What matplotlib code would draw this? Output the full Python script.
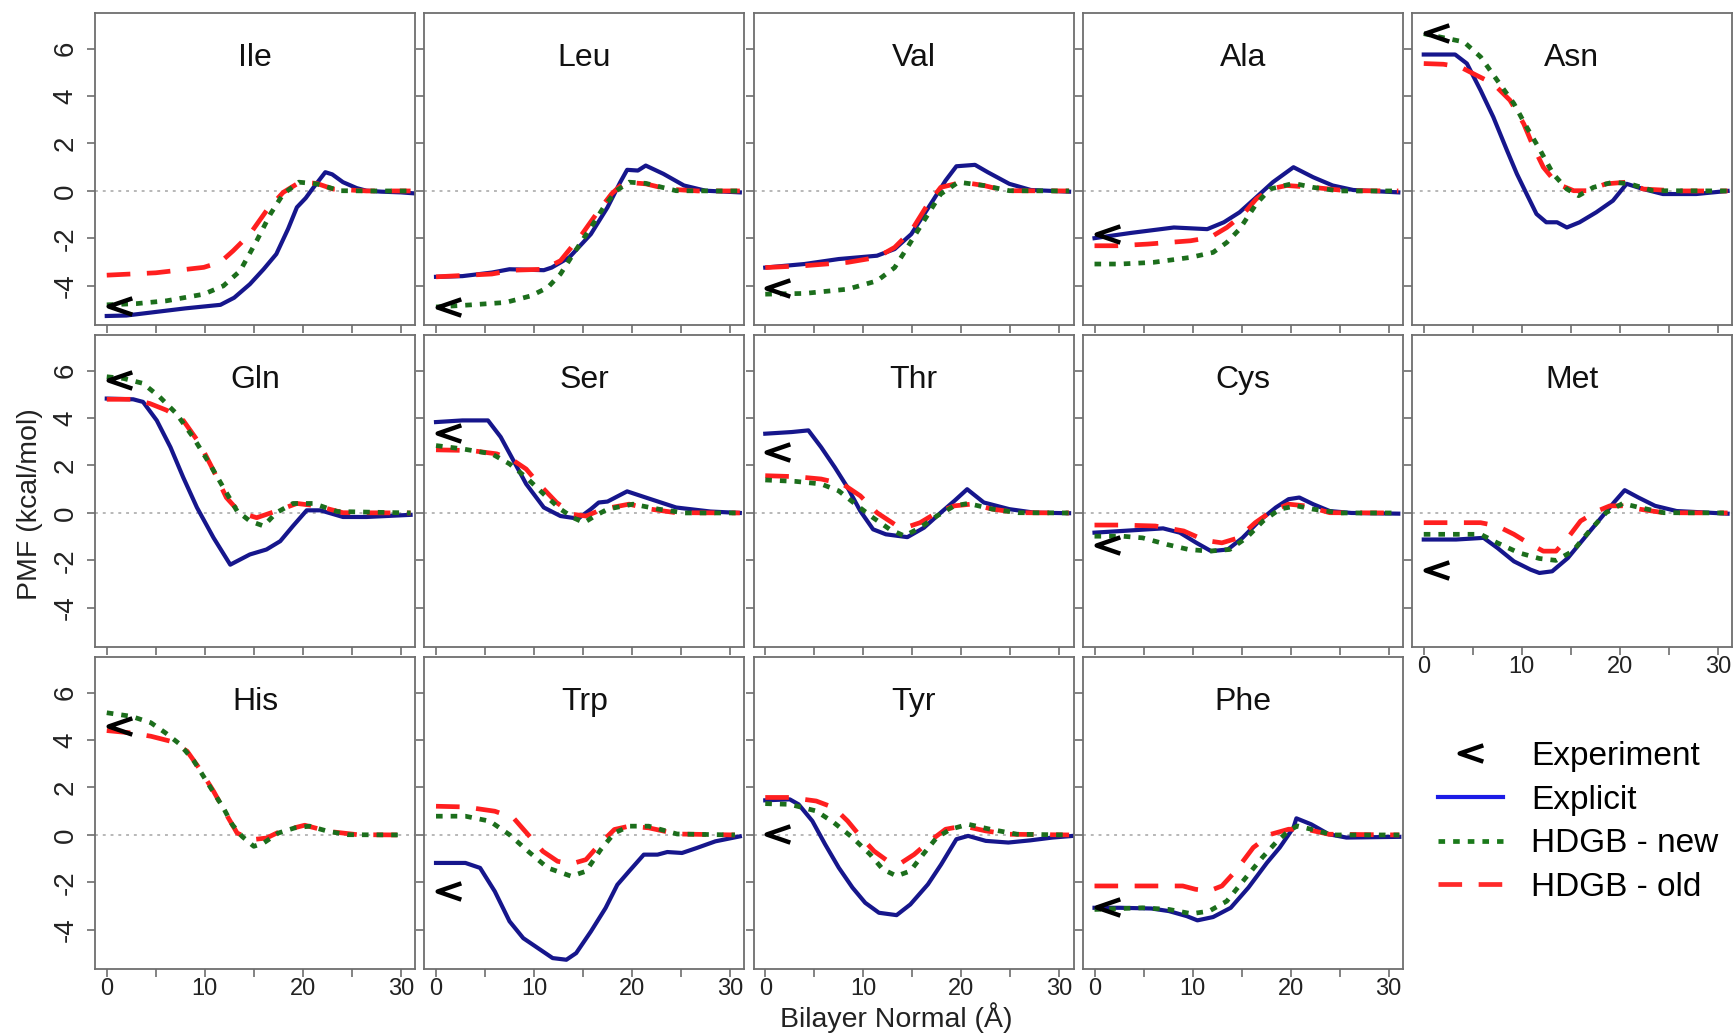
import matplotlib
matplotlib.use('Agg')
import matplotlib.pyplot as plt
from matplotlib.path import Path
from matplotlib.markers import MarkerStyle
from matplotlib.lines import Line2D
from matplotlib.transforms import offset_copy

# ---------------- data ----------------
RESIDUES = ['Ile', 'Leu', 'Val', 'Ala', 'Asn',
            'Gln', 'Ser', 'Thr', 'Cys', 'Met',
            'His', 'Trp', 'Tyr', 'Phe']
EXPERIMENT = [-4.85, -4.9, -4.1, -1.8, 6.66,
              5.6, 3.35, 2.55, -1.33, -2.39,
              4.58, -2.38, 0.05, -3.04]

XTICKS = [0, 5, 10, 15, 20, 25, 30]
XTICK_LABELS = ['0', '', '10', '', '20', '', '30']
YTICKS = [-4, -2, 0, 2, 4, 6]
YTICK_LABELS = ['-4', '-2', '0', '2', '4', '6']

ILE_EXPL_X = [0, 2, 5, 8, 11.6, 13, 14.6, 16, 17.3, 18.5, 19.4, 20.3, 21.1, 22.3, 23, 24.1, 25.5, 26.5, 28, 30, 31.3]
ILE_EXPL_Y = [-5.27, -5.25, -5.1, -4.95, -4.8, -4.5, -3.93, -3.3, -2.66, -1.6, -0.69, -0.3, 0.15, 0.79, 0.7, 0.37, 0.12, 0.01, -0.03, -0.06, -0.1]
ILE_NEW_X = [0, 3, 6.1, 9.9, 11.9, 13.6, 15.3, 16.7, 18, 19.6, 21.4, 23.8, 27, 31]
ILE_NEW_Y = [-4.8, -4.75, -4.63, -4.35, -4.0, -3.37, -2.1, -0.97, -0.13, 0.37, 0.3, 0.01, 0.0, 0.0]
ILE_OLD_X = [0, 5, 9.9, 11.6, 12.9, 14.6, 16.3, 18, 19.7, 21.4, 23.1, 26.5, 31]
ILE_OLD_Y = [-3.55, -3.45, -3.22, -3.0, -2.52, -1.82, -0.83, -0.06, 0.37, 0.32, 0.08, 0.0, 0.0]

LEU_EXPL_X = [0, 2.7, 5.7, 7.5, 11, 11.8, 13.6, 15.8, 17.5, 18.8, 19.5, 20.6, 21.4, 23.2, 25.3, 27.5, 31]
LEU_EXPL_Y = [-3.62, -3.59, -3.44, -3.3, -3.34, -3.23, -2.8, -1.82, -0.69, 0.37, 0.89, 0.86, 1.07, 0.72, 0.23, 0.01, -0.06]
LEU_NEW_X = [0, 3.6, 7.1, 9.7, 11.4, 12.7, 14, 15.8, 17.1, 18.4, 19.7, 21.4, 24.5, 28.8, 31]
LEU_NEW_Y = [-4.89, -4.8, -4.7, -4.42, -4.07, -3.5, -2.66, -1.54, -0.69, 0.01, 0.37, 0.32, 0.01, 0, 0]
LEU_OLD_X = [0, 5.7, 7.9, 11, 12.7, 14.9, 16.6, 17.9, 19.2, 21.4, 23.6, 26.7, 31]
LEU_OLD_Y = [-3.62, -3.5, -3.34, -3.3, -2.94, -1.82, -0.83, -0.13, 0.37, 0.3, 0.08, 0, 0]

VAL_EXPL_X = [0, 4, 7.5, 11.4, 13.2, 14.9, 17.1, 18.4, 19.5, 21.4, 22.7, 24.9, 27.1, 31]
VAL_EXPL_Y = [-3.23, -3.08, -2.87, -2.73, -2.45, -1.82, -0.41, 0.44, 1.04, 1.1, 0.79, 0.3, 0.04, -0.03]
VAL_NEW_X = [0, 4, 8.4, 11.4, 13.2, 14.5, 16.2, 17.9, 19.7, 22.3, 24.9, 31]
VAL_NEW_Y = [-4.35, -4.32, -4.14, -3.79, -3.23, -2.38, -1.25, -0.13, 0.37, 0.23, 0.01, 0]
VAL_OLD_X = [0, 4, 8.4, 11.4, 13.2, 14.9, 16.6, 17.9, 20.1, 22.3, 24.5, 31]
VAL_OLD_Y = [-3.23, -3.15, -3.01, -2.8, -2.38, -1.68, -0.55, 0.15, 0.37, 0.23, 0.01, 0]

ALA_EXPL_X = [0, 3.7, 8.1, 11.5, 13.2, 14.8, 16.5, 18.2, 20.3, 22.3, 24.3, 26.4, 31]
ALA_EXPL_Y = [-1.99, -1.77, -1.54, -1.61, -1.32, -0.9, -0.27, 0.37, 1.0, 0.58, 0.23, 0.04, -0.06]
ALA_NEW_X = [0, 2.6, 6, 9.8, 12.1, 13.5, 14.8, 16.5, 17.9, 20.3, 22.3, 25, 31]
ALA_NEW_Y = [-3.08, -3.08, -3.01, -2.8, -2.59, -2.17, -1.61, -0.55, 0.08, 0.32, 0.15, 0, 0]
ALA_OLD_X = [0, 2.3, 5.4, 9.8, 11.8, 13.5, 15.2, 16.5, 17.9, 19.6, 22.3, 25.7, 31]
ALA_OLD_Y = [-2.31, -2.31, -2.24, -2.1, -1.96, -1.54, -0.97, -0.34, 0.08, 0.23, 0.15, 0.01, 0]

ASN_EXPL_X = [0, 3.2, 4.4, 5.8, 7.1, 8.5, 9.5, 10.5, 11.5, 12.5, 13.6, 14.6, 15.9, 17.6, 19.3, 20.7, 22.4, 24.4, 27.8, 31]
ASN_EXPL_Y = [5.75, 5.75, 5.37, 4.24, 3.11, 1.7, 0.72, -0.13, -0.97, -1.32, -1.32, -1.54, -1.32, -0.9, -0.41, 0.3, 0.08, -0.13, -0.13, 0]
ASN_NEW_X = [0, 4.1, 5.8, 7.5, 9.2, 10.5, 11.9, 13.2, 14.6, 15.8, 17.3, 19.3, 21, 23.4, 31]
ASN_NEW_Y = [6.63, 6.28, 5.65, 4.66, 3.68, 2.69, 1.7, 0.72, 0.08, -0.2, 0.15, 0.37, 0.3, 0.01, 0]
ASN_OLD_X = [0, 2, 3.7, 5.4, 7.1, 8.8, 10.2, 11.2, 12.2, 13.6, 15.3, 16.6, 18.6, 20.7, 22.4, 26.1, 31]
ASN_OLD_Y = [5.37, 5.34, 5.23, 4.87, 4.52, 3.82, 2.83, 1.85, 1.0, 0.3, 0.01, 0.01, 0.3, 0.37, 0.08, 0, 0]

GLN_EXPL_X = [0, 2.7, 3.7, 5.1, 6.5, 7.8, 9.2, 10.9, 12.6, 14.6, 16.3, 17.7, 19, 20.4, 21.8, 24.1, 26.5, 31]
GLN_EXPL_Y = [4.82, 4.79, 4.68, 3.9, 2.77, 1.5, 0.23, -1.05, -2.18, -1.75, -1.54, -1.19, -0.55, 0.11, 0.11, -0.17, -0.17, -0.08]
GLN_NEW_X = [0, 1.7, 3.7, 5.4, 7.1, 8.8, 10.5, 11.9, 13.3, 14.6, 16, 17.3, 19, 21.1, 23.5, 31]
GLN_NEW_Y = [5.74, 5.67, 5.46, 4.89, 4.19, 3.2, 2.07, 1.07, 0.08, -0.34, -0.55, 0.01, 0.4, 0.4, 0.06, 0]
GLN_OLD_X = [0, 2.7, 4.4, 6.1, 7.8, 9.5, 10.9, 12.2, 13.6, 15.3, 17.3, 19.4, 21.4, 24.1, 31]
GLN_OLD_Y = [4.79, 4.79, 4.61, 4.33, 3.9, 2.91, 1.78, 0.65, 0.01, -0.2, 0.08, 0.4, 0.3, 0.01, 0]

SER_EXPL_X = [0, 2.7, 5.3, 6.6, 7.9, 9.2, 11, 12.7, 14.5, 15.8, 16.6, 17.5, 19.5, 21.4, 24.5, 28, 31]
SER_EXPL_Y = [3.83, 3.9, 3.9, 3.2, 2.21, 1.22, 0.23, -0.13, -0.24, 0.16, 0.44, 0.48, 0.91, 0.65, 0.23, 0.06, 0]
SER_NEW_X = [0, 2.7, 5.7, 7.5, 9.2, 11, 12.7, 14, 15.1, 16.2, 17.5, 20.1, 22.7, 25.4, 31]
SER_NEW_Y = [2.84, 2.7, 2.49, 2.07, 1.5, 0.79, 0.16, -0.2, -0.41, -0.13, 0.16, 0.37, 0.16, 0, 0]
SER_OLD_X = [0, 3.6, 6.2, 7.9, 9.2, 10.5, 12.3, 14, 15.3, 17, 19.7, 21.9, 24.5, 31]
SER_OLD_Y = [2.66, 2.63, 2.49, 2.21, 1.85, 1.22, 0.44, -0.06, -0.13, 0.16, 0.37, 0.16, 0.01, 0]

THR_EXPL_X = [0, 2.7, 4.4, 5.7, 7.1, 8.4, 9.7, 11, 12.3, 14.5, 16.2, 17.9, 19.3, 20.6, 22.3, 24.9, 27.5, 31]
THR_EXPL_Y = [3.34, 3.41, 3.48, 2.77, 1.92, 1.07, 0.08, -0.69, -0.9, -1.02, -0.62, 0.01, 0.51, 1.0, 0.44, 0.16, 0.01, -0.01]
THR_NEW_X = [0, 3.1, 5.7, 7.5, 9.2, 11, 12.7, 14.2, 15.8, 17.5, 19.3, 20.7, 23.2, 25.8, 31]
THR_NEW_Y = [1.39, 1.33, 1.22, 0.93, 0.37, -0.2, -0.69, -0.97, -0.62, -0.13, 0.3, 0.4, 0.16, 0.01, 0]
THR_OLD_X = [0, 3.1, 5.7, 7.9, 9.7, 11.4, 13.2, 14.5, 15.8, 17.5, 19.3, 21, 23.2, 25.8, 31]
THR_OLD_Y = [1.57, 1.53, 1.43, 1.22, 0.72, 0.01, -0.48, -0.59, -0.41, 0.01, 0.3, 0.37, 0.16, 0.01, 0]

CYS_EXPL_X = [0, 2.8, 7, 8.7, 10.4, 11.9, 13.6, 15.1, 16.8, 18.5, 19.8, 20.9, 22.3, 24, 26.2, 31]
CYS_EXPL_Y = [-0.83, -0.76, -0.65, -0.83, -1.26, -1.61, -1.54, -1.05, -0.34, 0.23, 0.58, 0.65, 0.37, 0.08, 0, -0.03]
CYS_NEW_X = [0, 2.8, 4.9, 7.4, 9.6, 11.7, 13.8, 15.5, 17.2, 18.9, 20.6, 22.3, 24.9, 31]
CYS_NEW_Y = [-0.98, -0.98, -1.05, -1.33, -1.54, -1.61, -1.54, -1.05, -0.34, 0.16, 0.3, 0.16, 0, 0]
CYS_OLD_X = [0, 2.8, 6.2, 9.1, 11.3, 13, 14.7, 16.4, 18.1, 19.8, 21.5, 24, 31]
CYS_OLD_Y = [-0.51, -0.51, -0.55, -0.76, -1.16, -1.26, -1.05, -0.41, 0.08, 0.37, 0.3, 0.01, 0]

MET_EXPL_X = [0, 3.3, 6.1, 7.5, 9.2, 10.9, 11.8, 13.1, 14.7, 16.4, 18.1, 19.4, 20.5, 21.9, 23.6, 25.8, 31]
MET_EXPL_Y = [-1.12, -1.12, -1.05, -1.47, -2.04, -2.39, -2.53, -2.46, -1.9, -1.05, -0.2, 0.44, 0.96, 0.65, 0.3, 0.08, -0.03]
MET_NEW_X = [0, 5.8, 7.5, 9.7, 11.8, 13.5, 15.2, 16.9, 18.6, 20.3, 22, 24.5, 31]
MET_NEW_Y = [-0.9, -0.9, -1.26, -1.68, -1.92, -2.0, -1.61, -0.76, 0.01, 0.4, 0.23, 0.01, 0]
MET_OLD_X = [0, 5.8, 7.5, 9.2, 10.9, 12.2, 13.5, 14.7, 16, 17.7, 19, 20.3, 22, 24.5, 31]
MET_OLD_Y = [-0.41, -0.41, -0.55, -0.9, -1.33, -1.61, -1.61, -1.05, -0.34, 0.08, 0.3, 0.3, 0.16, 0.01, 0]

HIS_EXPL_X = []
HIS_EXPL_Y = []
HIS_NEW_X = [0, 2.5, 4.5, 6, 7.5, 8.9, 10.4, 11.9, 12.8, 13.8, 15.0, 16, 17.5, 19.2, 20.7, 22.6, 24.6, 30]
HIS_NEW_Y = [5.15, 5.0, 4.73, 4.3, 3.81, 3.11, 2.12, 1.14, 0.44, -0.06, -0.48, -0.34, 0.08, 0.3, 0.37, 0.15, 0.01, 0]
HIS_OLD_X = [0, 2.5, 4.5, 6.5, 8.2, 9.4, 10.9, 12.4, 13.3, 14.8, 16.3, 17.7, 20.2, 22.6, 25.6, 30]
HIS_OLD_Y = [4.4, 4.3, 4.16, 3.95, 3.53, 2.83, 1.84, 0.72, 0.08, -0.2, -0.13, 0.15, 0.41, 0.15, 0.01, 0]

TRP_EXPL_X = [0, 3, 4.5, 6, 7.5, 8.9, 10.4, 11.9, 13.3, 14.3, 15.8, 17.3, 18.5, 19.7, 21.2, 22.6, 23.6, 25.1, 26.6, 28.5, 31]
TRP_EXPL_Y = [-1.18, -1.18, -1.39, -2.38, -3.64, -4.35, -4.77, -5.19, -5.26, -4.98, -4.07, -3.08, -2.1, -1.53, -0.83, -0.83, -0.72, -0.76, -0.55, -0.27, -0.06]
TRP_NEW_X = [0, 3, 5.5, 7.5, 9.4, 11.4, 13.8, 15.3, 16.8, 18.2, 19.7, 21.7, 24.6, 30.5]
TRP_NEW_Y = [0.79, 0.79, 0.58, 0.01, -0.69, -1.39, -1.74, -1.53, -0.62, 0.08, 0.37, 0.37, 0.04, 0]
TRP_OLD_X = [0, 3, 6, 7.9, 9.4, 10.9, 12.4, 13.8, 15.3, 16.8, 18.2, 19.7, 21.7, 24.6, 30.5]
TRP_OLD_Y = [1.21, 1.18, 1.0, 0.72, 0.01, -0.69, -1.11, -1.22, -1.04, -0.34, 0.23, 0.37, 0.3, 0.04, 0]

TYR_EXPL_X = [0, 2.5, 3.4, 4.8, 6.1, 7.5, 8.9, 10.2, 11.6, 13.4, 14.8, 16.6, 17.95, 19.5, 20.7, 22.5, 24.8, 27, 29.3, 31.4]
TYR_EXPL_Y = [1.46, 1.5, 1.29, 0.59, -0.39, -1.38, -2.22, -2.86, -3.28, -3.38, -2.93, -2.08, -1.24, -0.18, -0.04, -0.25, -0.32, -0.23, -0.11, -0.04]
TYR_NEW_X = [0, 2.5, 5.2, 7, 8.9, 10.7, 12, 13.4, 14.8, 16.1, 17.5, 18.9, 20.7, 22.95, 25.7, 31]
TYR_NEW_Y = [1.32, 1.29, 1.01, 0.52, -0.11, -0.82, -1.45, -1.73, -1.52, -0.82, -0.11, 0.24, 0.45, 0.24, 0.03, 0]
TYR_OLD_X = [0, 2.5, 5.2, 7, 8.4, 9.8, 11.1, 12.5, 13.9, 15.2, 16.6, 18.4, 20.2, 22.5, 24.8, 31]
TYR_OLD_Y = [1.58, 1.58, 1.43, 1.15, 0.59, -0.11, -0.68, -1.1, -1.17, -0.82, -0.32, 0.24, 0.38, 0.17, 0.03, 0]

PHE_EXPL_X = [0, 2.6, 5.8, 7.6, 9.4, 10.5, 12.1, 13.9, 15.7, 17.6, 18.9, 20.3, 20.6, 22.1, 23.9, 25.7, 31.1]
PHE_EXPL_Y = [-3.07, -3.07, -3.1, -3.21, -3.42, -3.6, -3.46, -3.07, -2.22, -1.17, -0.53, 0.31, 0.7, 0.45, 0.03, -0.11, -0.08]
PHE_NEW_X = [0, 4.9, 7.6, 9.9, 11.7, 13.5, 15.3, 17.1, 18.5, 19.8, 20.7, 22.1, 24.3, 31.1]
PHE_NEW_Y = [-3.14, -3.07, -3.14, -3.32, -3.21, -2.79, -1.87, -0.96, -0.32, 0.17, 0.38, 0.24, 0, 0]
PHE_OLD_X = [0, 4.9, 9, 10.3, 11.7, 13, 14.4, 16.2, 18, 19.8, 21.6, 23.9, 31.1]
PHE_OLD_Y = [-2.15, -2.15, -2.15, -2.29, -2.36, -2.15, -1.52, -0.53, 0.03, 0.24, 0.24, 0.03, 0]

EXPLICIT = [(ILE_EXPL_X, ILE_EXPL_Y), (LEU_EXPL_X, LEU_EXPL_Y), (VAL_EXPL_X, VAL_EXPL_Y),
            (ALA_EXPL_X, ALA_EXPL_Y), (ASN_EXPL_X, ASN_EXPL_Y), (GLN_EXPL_X, GLN_EXPL_Y),
            (SER_EXPL_X, SER_EXPL_Y), (THR_EXPL_X, THR_EXPL_Y), (CYS_EXPL_X, CYS_EXPL_Y),
            (MET_EXPL_X, MET_EXPL_Y), (HIS_EXPL_X, HIS_EXPL_Y), (TRP_EXPL_X, TRP_EXPL_Y),
            (TYR_EXPL_X, TYR_EXPL_Y), (PHE_EXPL_X, PHE_EXPL_Y)]
HDGB_NEW = [(ILE_NEW_X, ILE_NEW_Y), (LEU_NEW_X, LEU_NEW_Y), (VAL_NEW_X, VAL_NEW_Y),
            (ALA_NEW_X, ALA_NEW_Y), (ASN_NEW_X, ASN_NEW_Y), (GLN_NEW_X, GLN_NEW_Y),
            (SER_NEW_X, SER_NEW_Y), (THR_NEW_X, THR_NEW_Y), (CYS_NEW_X, CYS_NEW_Y),
            (MET_NEW_X, MET_NEW_Y), (HIS_NEW_X, HIS_NEW_Y), (TRP_NEW_X, TRP_NEW_Y),
            (TYR_NEW_X, TYR_NEW_Y), (PHE_NEW_X, PHE_NEW_Y)]
HDGB_OLD = [(ILE_OLD_X, ILE_OLD_Y), (LEU_OLD_X, LEU_OLD_Y), (VAL_OLD_X, VAL_OLD_Y),
            (ALA_OLD_X, ALA_OLD_Y), (ASN_OLD_X, ASN_OLD_Y), (GLN_OLD_X, GLN_OLD_Y),
            (SER_OLD_X, SER_OLD_Y), (THR_OLD_X, THR_OLD_Y), (CYS_OLD_X, CYS_OLD_Y),
            (MET_OLD_X, MET_OLD_Y), (HIS_OLD_X, HIS_OLD_Y), (TRP_OLD_X, TRP_OLD_Y),
            (TYR_OLD_X, TYR_OLD_Y), (PHE_OLD_X, PHE_OLD_Y)]
EXP_Z = 0.0

# ---------------- style / layout ----------------
plt.rcParams['font.family'] = ['Liberation Sans', 'DejaVu Sans']
W, H = 1734, 1036
PANEL_LEFT = [95, 424.25, 753.5, 1082.75, 1412]
PANEL_TOP = [13, 335, 657]
PW, PH = 320, 312
FRAME = '#6e6e6e'
C_BLUE = '#16168c'
C_GREEN = '#1c6e1c'
C_RED = '#ff1f1f'

chev = MarkerStyle(Path([(0.9, 0.62), (-0.9, 0.0), (0.9, -0.62)],
                        [Path.MOVETO, Path.LINETO, Path.LINETO]),
                   fillstyle='none', joinstyle='miter', capstyle='butt')

fig = plt.figure(figsize=(W / 100, H / 100), dpi=100)

for i, name in enumerate(RESIDUES):
    r, c = divmod(i, 5)
    ax = fig.add_axes([PANEL_LEFT[c] / W, 1 - (PANEL_TOP[r] + PH) / H, PW / W, PH / H])
    ax.set_xlim(-1.2, 31.45)
    ax.set_ylim(-5.65, 7.5)
    ax.axhline(0, color='#b8b8b8', lw=1.4, ls=(0, (1.5, 2.5)), zorder=1)
    ex, ey = EXPLICIT[i]
    if ex:
        ax.plot(ex, ey, color=C_BLUE, lw=3.0, solid_joinstyle='round', zorder=2)
    ox, oy = HDGB_OLD[i]
    ax.plot(ox, oy, color=C_RED, lw=3.4, ls=(0, (5.0, 3.5)), zorder=3)
    nx, ny = HDGB_NEW[i]
    ax.plot(nx, ny, color=C_GREEN, lw=3.4, ls=(0, (1.4, 1.7)), zorder=4)
    tr = offset_copy(ax.transData, fig=fig, x=13, y=0, units='dots')
    ax.plot([EXP_Z], [EXPERIMENT[i]], ls='none', marker=chev, ms=17, mew=3.2,
            mec='black', transform=tr, zorder=5, clip_on=False)
    ax.text(0.5, 0.831, name, transform=ax.transAxes, ha='center', va='baseline',
            fontsize=23, color='#111111')

    for sp in ax.spines.values():
        sp.set_color(FRAME)
        sp.set_linewidth(1.3)
    ax.set_xticks(XTICKS)
    ax.set_yticks(YTICKS)
    show_x = (r == 2) or (r == 1 and c == 4)
    if show_x:
        ax.set_xticklabels(XTICK_LABELS, fontsize=17, color='#222222')
    else:
        ax.set_xticklabels([])
    if c == 0:
        ax.set_yticklabels(YTICK_LABELS, fontsize=20, rotation=90, va='center', color='#222222')
    else:
        ax.set_yticklabels([])
    ax.tick_params(axis='both', direction='out', length=5.8, width=1.2, color=FRAME)
    ax.tick_params(axis='x', pad=0.5)
    ax.tick_params(axis='y', pad=6.0)

fig.text(30 / W, 1 - 504 / H, 'PMF (kcal/mol)', rotation=90, ha='center', va='center',
         fontsize=20.5, color='#222222')
fig.text(896 / W, 1 - 1018 / H, 'Bilayer Normal (Å)', ha='center', va='center',
         fontsize=20.5, color='#222222')

handles = [
    Line2D([], [], ls='none', marker=chev, ms=17, mew=3.2, mec='black'),
    Line2D([], [], color='#1c1ce6', lw=3.0),
    Line2D([], [], color='#1a7a1a', lw=3.4, ls=(0, (1.4, 1.7))),
    Line2D([], [], color='#ff2a2a', lw=3.4, ls=(0, (5.0, 3.5))),
]
labels = ['Experiment', 'Explicit', 'HDGB - new', 'HDGB - old']
fig.legend(handles, labels, loc='upper left', bbox_to_anchor=(1438 / W, 1 - 741 / H),
           frameon=False, fontsize=24, handlelength=1.95, handletextpad=0.85,
           labelspacing=0.38, borderpad=0, borderaxespad=0)

fig.savefig('out.png', dpi=100, facecolor='white')
